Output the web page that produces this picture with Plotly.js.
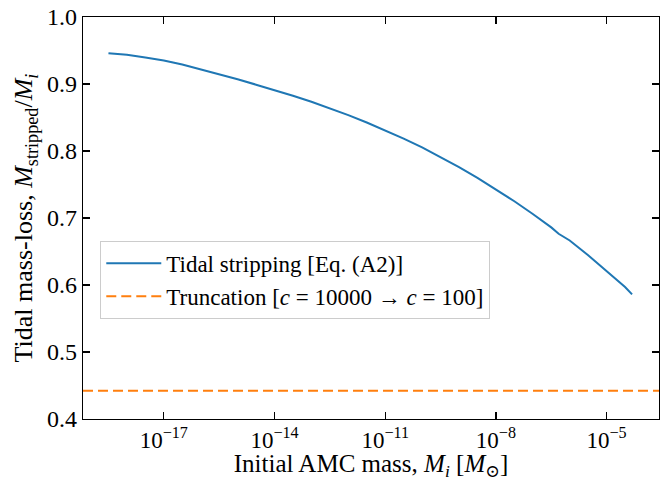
<!DOCTYPE html>
<html>
<head>
<meta charset="utf-8">
<script src="https://cdn.plot.ly/plotly-3.0.1.min.js"></script>
<style>html,body{margin:0;padding:0;background:#fff;}#chart{width:665px;height:481px;}</style>
</head>
<body>
<div id="chart"></div>
<script>
// Tidal stripping curve: log10 of initial mass and mass-loss fraction
const logMass = [-18.5, -18.0, -17.5, -17.0, -16.5, -16.0, -15.5, -15.0, -14.5, -14.0, -13.5, -13.0, -12.5, -12.0, -11.5, -11.0, -10.5, -10.0, -9.5, -9.0, -8.5, -8.0, -7.5, -7.0, -6.5, -6.3, -6.15, -6.0, -5.5, -5.0, -4.5, -4.31];
const massLoss = [0.946, 0.9435, 0.9395, 0.935, 0.929, 0.922, 0.915, 0.907, 0.899, 0.891, 0.8825, 0.8735, 0.864, 0.8535, 0.8425, 0.831, 0.8185, 0.8055, 0.791, 0.776, 0.760, 0.743, 0.725, 0.706, 0.686, 0.6765, 0.672, 0.6665, 0.6445, 0.621, 0.597, 0.586];
// Truncation level (horizontal line across the axis)
const truncationValue = 0.442;
const xRangeLog = [-19.19, -3.58];
const tickExps = [-17, -14, -11, -8, -5];
const tickVals = tickExps.map(e => Math.pow(10, e));
const tickText = tickExps.map(e => '10<sup>\u2212' + Math.abs(e) + '</sup>');
const yTicks = [0.4, 0.5, 0.6, 0.7, 0.8, 0.9, 1.0];

const font = 'Liberation Serif, DejaVu Serif, serif';

const traces = [
  {
    x: logMass.map(v => Math.pow(10, v)),
    y: massLoss,
    mode: 'lines',
    name: 'Tidal stripping [Eq. (A2)]',
    legendgroup: 'a',
    line: {color: '#1f77b4', width: 2}
  },
  {
    x: xRangeLog.map(v => Math.pow(10, v)),
    y: xRangeLog.map(() => truncationValue),
    mode: 'lines',
    name: 'Truncation [<i>c</i> = 10000 \u2192 <i>c</i> = 100]',
    legendgroup: 'b',
    line: {color: '#ff7f0e', width: 2, dash: '10px,5px'}
  }
];

const layout = {
  width: 665,
  height: 481,
  margin: {l: 83, r: 6, t: 17, b: 62},
  paper_bgcolor: '#fff',
  plot_bgcolor: '#fff',
  font: {family: font, color: '#000', size: 24},
  showlegend: true,
  legend: {
    x: 0.03, y: 0.443, xanchor: 'left', yanchor: 'top',
    bgcolor: 'rgba(255,255,255,0.8)',
    bordercolor: '#cccccc', borderwidth: 1,
    font: {family: font, size: 23, color: '#000'},
    traceorder: 'grouped',
    tracegroupgap: 0,
    itemwidth: 55
  },
  xaxis: {
    type: 'log',
    range: xRangeLog,
    tickmode: 'array',
    tickvals: tickVals,
    ticktext: tickText,
    ticks: 'inside', ticklen: 7, tickwidth: 1.3, tickcolor: '#000',
    showline: true, linecolor: '#000', linewidth: 1.3,
    mirror: 'allticks',
    showgrid: false, zeroline: false,
    tickfont: {family: font, size: 23, color: '#000'},
    title: {text: 'Initial AMC mass, <i>M<sub>i</sub></i> [<i>M</i><sub>\u2299</sub>]', font: {family: font, size: 25, color: '#000'}, standoff: 10}
  },
  yaxis: {
    range: [0.4, 1.0],
    tickmode: 'array',
    tickvals: yTicks,
    ticktext: yTicks.map(v => v.toFixed(1)),
    ticks: 'inside', ticklen: 7, tickwidth: 1.3, tickcolor: '#000',
    showline: true, linecolor: '#000', linewidth: 1.3,
    mirror: 'allticks',
    showgrid: false, zeroline: false,
    tickfont: {family: font, size: 24, color: '#000'},
    title: {text: 'Tidal mass-loss, <i>M</i><sub>stripped</sub>/<i>M<sub>i</sub></i>', font: {family: font, size: 26, color: '#000'}, standoff: 6}
  }
};

Plotly.newPlot('chart', traces, layout, {staticPlot: true, displayModeBar: false});
</script>
</body>
</html>
